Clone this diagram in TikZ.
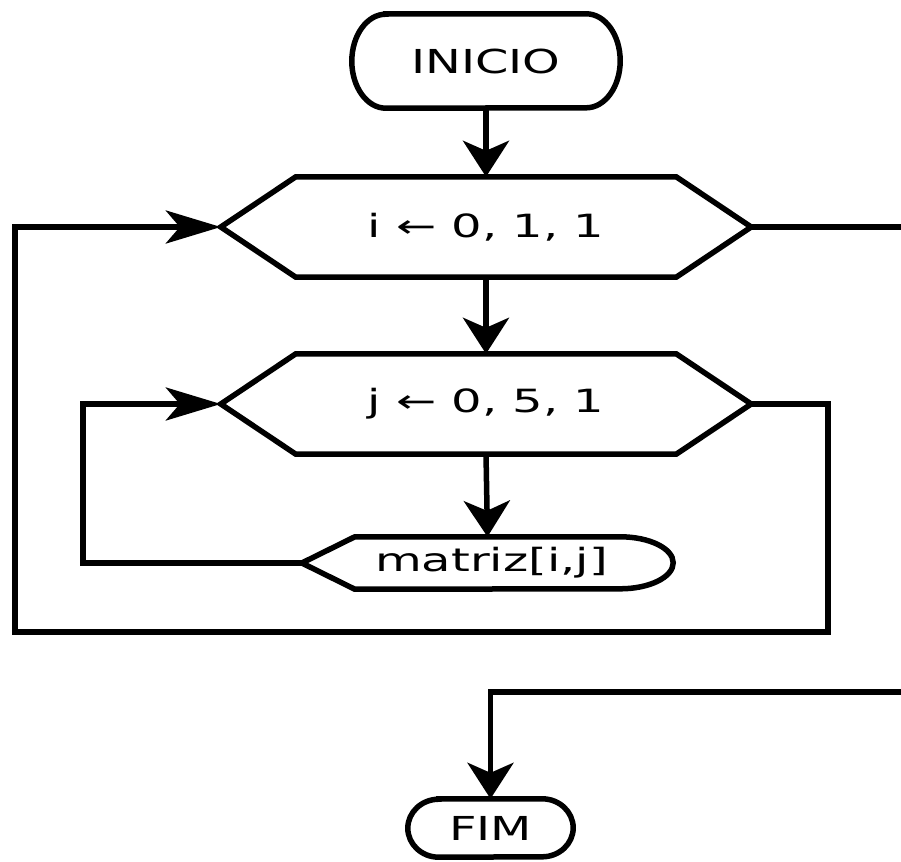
\documentclass[tikz,border=0pt]{standalone}
\usepackage{fontspec}
\setmainfont{DejaVu Sans}
\newfontfamily\termfont{DejaVu Sans}[FakeStretch=1.45]
\newfontfamily\procfont{DejaVu Sans}[FakeStretch=1.5]
\usetikzlibrary{arrows.meta}
\tikzset{
  termbox/.style={inner sep=0pt, font=\termfont\fontsize{33}{40}\selectfont},
  hexbox/.style={inner sep=0pt, minimum width=530pt, minimum height=100pt, font=\procfont\fontsize{32}{38}\selectfont},
  dispbox/.style={inner sep=0pt, minimum width=371pt, minimum height=52pt, font=\procfont\fontsize{32}{38}\selectfont},
  outline/.style={line width=5.5pt, line join=miter, fill=white, draw=black},
  conn/.style={line width=5.5pt, line join=miter, draw=black},
  vtip/.style={-{Stealth[length=36pt,width=46pt,inset=10pt]}},
  htip/.style={-{Stealth[length=55pt,width=33pt,inset=14pt]}},
}
\begin{document}
\begin{tikzpicture}[x=1pt,y=-1pt]
\useasboundingbox (0,0) rectangle (901,861);
\fill[white] (0,0) rectangle (901,861);

% nodes
\node[termbox, minimum width=268pt, minimum height=94pt] (start) at (486,61) {};
\node[hexbox] (h1) at (486,227) {};
\node[hexbox] (h2) at (486,404) {};
\node[dispbox] (d) at (487.5,563) {};
\node[termbox, minimum width=165pt, minimum height=58pt] (fim) at (490.5,828) {};

% outlines
\draw[outline] ([xshift=34pt]start.north west) -- ([xshift=-34pt]start.north east)
  arc (90:-90:34pt and 47pt) -- ([xshift=34pt]start.south west)
  arc (270:90:34pt and 47pt) -- cycle;
\draw[outline] ([xshift=31pt]fim.north west) -- ([xshift=-31pt]fim.north east)
  arc (90:-90:31pt and 29pt) -- ([xshift=31pt]fim.south west)
  arc (270:90:31pt and 29pt) -- cycle;
\foreach \h in {h1,h2}{
  \draw[outline] (\h.west) -- ([xshift=75pt]\h.north west) -- ([xshift=-75pt]\h.north east)
    -- (\h.east) -- ([xshift=-75pt]\h.south east) -- ([xshift=75pt]\h.south west) -- cycle;
}
\draw[outline] (d.west) -- ([xshift=53pt]d.north west) -- ([xshift=-53pt]d.north east)
  arc (90:-90:53pt and 26pt) -- ([xshift=53pt]d.south west) -- cycle;

% texts
\node[termbox] at (start.center) {INICIO};
\node[termbox] at (fim.center) {FIM};
\node[hexbox] at (h1.center) {i ← 0, 1, 1};
\node[hexbox] at (h2.center) {j ← 0, 5, 1};
\node[dispbox] at ([xshift=4pt]d.center) {matriz[i,j]};

% off-page coordinates
\coordinate (outA) at (910,227);
\coordinate (inB) at (910,692);

% connectors
\draw[conn, vtip] (start.south) -- (h1.north);
\draw[conn, vtip] (h1.south) -- (h2.north);
\draw[conn, vtip] (h2.south) -- (d.north);
\draw[conn, htip] (d.west) -| ([xshift=-138pt]h2.west) -- (h2.west);
\draw[conn, htip] (h2.east) -| (828,632) -| ([xshift=-206pt]h1.west) -- (h1.west);
\draw[conn] (h1.east) -- (outA);
\draw[conn, vtip] (inB) -| (fim.north);
\end{tikzpicture}
\end{document}
